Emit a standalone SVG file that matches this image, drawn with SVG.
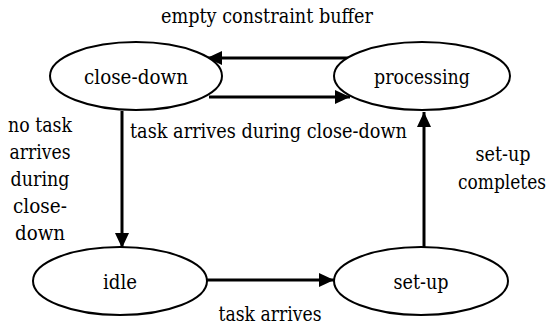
<svg xmlns="http://www.w3.org/2000/svg" width="555" height="329" viewBox="0 0 555 329">
<style>
.n{fill:#fff;stroke:#000;stroke-width:2}
.t{font-family:'DejaVu Serif',serif;font-size:20px;fill:#000}
.c{text-anchor:middle}
.e{stroke:#000;stroke-width:3;fill:none;marker-end:url(#ah)}
</style>
<defs>
<marker id="ah" markerUnits="userSpaceOnUse" markerWidth="16" markerHeight="14" refX="15" refY="7" orient="auto">
<path d="M0,0 L15,7 L0,14 Z" fill="#000"/>
</marker>
</defs>
<rect width="555" height="329" fill="#fff"/>
<g id="edges">
<line class="e" x1="352" y1="58" x2="207" y2="58"/>
<line class="e" x1="209" y1="97" x2="350" y2="97"/>
<line class="e" x1="122" y1="111" x2="122" y2="248"/>
<line class="e" x1="424" y1="248" x2="424" y2="112"/>
<line class="e" x1="207" y1="280" x2="334" y2="280"/>
</g>
<g id="close-down"><ellipse class="n" cx="136" cy="76" rx="86" ry="34"/><text class="t c" x="136" y="84" textLength="104" lengthAdjust="spacingAndGlyphs">close-down</text></g>
<g id="processing"><ellipse class="n" cx="422" cy="76" rx="88" ry="34"/><text class="t c" x="422" y="84" textLength="96" lengthAdjust="spacingAndGlyphs">processing</text></g>
<g id="idle"><ellipse class="n" cx="120" cy="281" rx="87" ry="34"/><text class="t c" x="120" y="289" textLength="34" lengthAdjust="spacingAndGlyphs">idle</text></g>
<g id="set-up"><ellipse class="n" cx="421" cy="281" rx="87" ry="34"/><text class="t c" x="421" y="289" textLength="55" lengthAdjust="spacingAndGlyphs">set-up</text></g>
<g id="labels">
<text class="t c" x="267" y="23" textLength="212" lengthAdjust="spacingAndGlyphs">empty constraint buffer</text>
<text class="t" x="130" y="138" textLength="277" lengthAdjust="spacingAndGlyphs">task arrives during close-down</text>
<text class="t c" x="40" y="132" textLength="64" lengthAdjust="spacingAndGlyphs">no task</text>
<text class="t c" x="40" y="159" textLength="61" lengthAdjust="spacingAndGlyphs">arrives</text>
<text class="t c" x="40" y="186" textLength="59" lengthAdjust="spacingAndGlyphs">during</text>
<text class="t c" x="40" y="213" textLength="54" lengthAdjust="spacingAndGlyphs">close-</text>
<text class="t c" x="40" y="240" textLength="50" lengthAdjust="spacingAndGlyphs">down</text>
<text class="t c" x="503" y="161" textLength="55" lengthAdjust="spacingAndGlyphs">set-up</text>
<text class="t c" x="502" y="189" textLength="88" lengthAdjust="spacingAndGlyphs">completes</text>
<text class="t c" x="270" y="321" textLength="103" lengthAdjust="spacingAndGlyphs">task arrives</text>
</g>
</svg>
